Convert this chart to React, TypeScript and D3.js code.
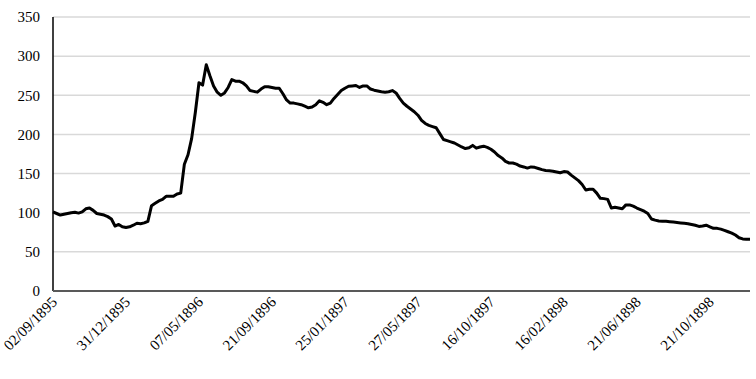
import React from "react";
import * as d3 from "d3";

const tickLabels = [
  "02/09/1895", "31/12/1895", "07/05/1896", "21/09/1896", "25/01/1897",
  "27/05/1897", "16/10/1897", "16/02/1898", "21/06/1898", "21/10/1898",
];
const labelEvery = 20;
const yTicks = [0, 50, 100, 150, 200, 250, 300, 350];

const values = [
  101, 99, 97, 98, 99, 100, 100.5, 99.5, 101, 105,
  106, 103, 99, 98, 97, 95, 92, 83, 85, 82,
  81, 82, 84, 86.5, 86, 87, 89, 109, 112, 115,
  117, 121, 121, 121, 124, 125, 162, 174, 195, 228,
  266, 263, 289, 275, 262, 254, 250, 253, 260, 270,
  268, 268, 266, 262, 256, 255, 254, 258, 261, 261,
  260, 259, 259, 252, 244, 240, 240, 239, 238, 236,
  234, 235, 238, 243, 241, 238, 240, 246, 251, 256,
  259, 261.5, 262, 262.5, 260, 262, 262, 258, 256.5, 255.5,
  254.5, 254, 254.5, 256, 253, 246, 240, 236, 232.5, 229,
  224.5, 218, 214, 211.5, 210, 208.5, 201, 193.5, 192, 190.5,
  189, 186.5, 184, 182, 183, 186, 182.5, 184, 185, 183.5,
  181, 177.5, 173, 170, 165.5, 163.5, 163.5, 162, 159.6, 158.5,
  157, 158.5, 158, 156.5, 155, 154, 153.5, 153, 152, 151,
  152.5, 152, 148, 144.5, 141, 136, 129, 130, 130, 125,
  118.4, 118, 117, 106, 107, 106, 105, 110, 110, 108.5,
  106, 104, 102, 99, 92, 90.5, 89.5, 89, 89, 88.5,
  88, 87.5, 87, 86.5, 86, 85, 84, 82.5, 83, 84,
  82, 80, 80, 79, 77.5, 75.7, 74, 71.5, 68, 66.5,
  66, 66,
];

const W = 756;
const H = 379;
const left = 53;
const right = 750;
const top = 17;
const bottom = 291;

export default function App() {
  const x = d3.scaleLinear().domain([0, values.length - 1]).range([left, right]);
  const y = d3.scaleLinear().domain([0, 350]).range([bottom, top]);
  const line = d3
    .line<number>()
    .x((_, i) => x(i))
    .y((d) => y(d))
    .curve(d3.curveLinear);
  const font = "'Liberation Serif', 'Times New Roman', serif";

  return (
    <svg
      width={W}
      height={H}
      style={{ position: "absolute", left: 0, top: 0, background: "#fff" }}
    >
      {yTicks.map((t) =>
        t === 0 ? null : (
          <line
            key={"g" + t}
            x1={left}
            x2={right}
            y1={y(t)}
            y2={y(t)}
            stroke="#d9d9d9"
            strokeWidth={1.5}
          />
        )
      )}
      {yTicks.map((t) => (
        <text
          key={"y" + t}
          x={40}
          y={y(t)}
          dy="0.35em"
          textAnchor="end"
          fontFamily={font}
          fontSize={15}
          fill="#000"
        >
          {t}
        </text>
      ))}
      <line x1={left} x2={left} y1={top} y2={bottom} stroke="#000" strokeWidth={1.5} />
      <line x1={left} x2={right} y1={bottom} y2={bottom} stroke="#595959" strokeWidth={2} />
      {tickLabels.map((lab, k) => {
        const px = x(k * labelEvery);
        return (
          <text
            key={lab}
            transform={`translate(${px + 5},${bottom + 12}) rotate(-45)`}
            textAnchor="end"
            fontFamily={font}
            fontSize={15}
            fill="#000"
          >
            {lab}
          </text>
        );
      })}
      <path
        d={line(values) || ""}
        fill="none"
        stroke="#000"
        strokeWidth={3}
        strokeLinejoin="round"
      />
    </svg>
  );
}
